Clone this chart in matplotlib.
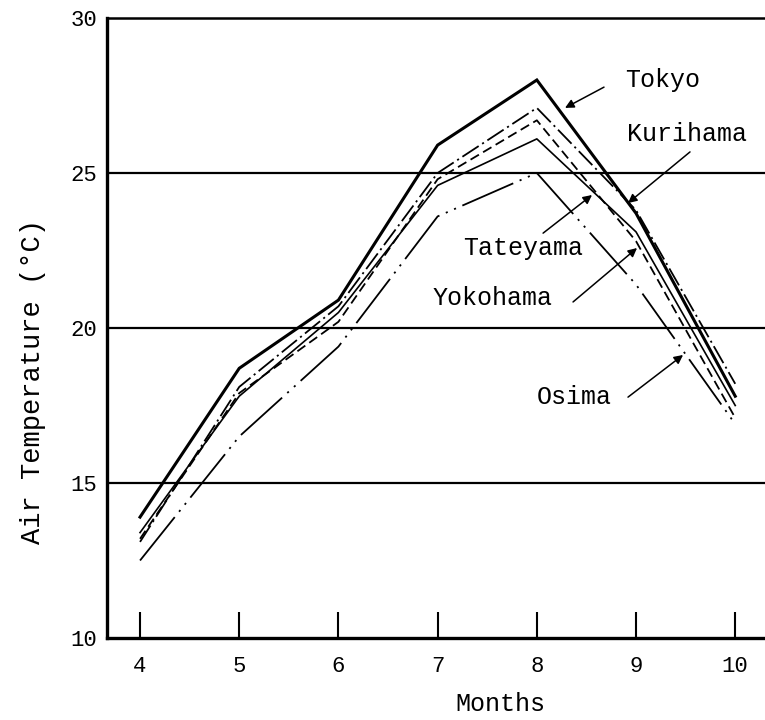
import matplotlib
matplotlib.use("Agg")
import matplotlib.pyplot as plt

plt.rcParams["font.family"] = ["Liberation Mono", "DejaVu Sans Mono"]
plt.rcParams["lines.scale_dashes"] = False

# Monthly mean air temperature (deg C), April to October
months = [4, 5, 6, 7, 8, 9, 10]
tokyo = [13.9, 18.7, 20.9, 25.9, 28.0, 23.7, 17.8]
kurihama = [13.1, 18.1, 20.7, 25.0, 27.1, 23.8, 18.2]
tateyama = [13.2, 17.9, 20.2, 24.8, 26.7, 22.8, 17.1]
yokohama = [13.4, 17.8, 20.5, 24.6, 26.1, 23.1, 17.5]
osima = [12.5, 16.5, 19.4, 23.6, 25.0, 21.4, 16.9]

y_ticks = [10, 15, 20, 25, 30]
x_ticks = months

fig = plt.figure(figsize=(7.65, 7.2), dpi=100)
ax = fig.add_axes([107 / 765, 1 - 638 / 720, 1 - 107 / 765, (638 - 18) / 720])

ax.set_xlim(3.667, 10.30)
ax.set_ylim(10, 30)

# station curves
ax.plot(months, tokyo, color="black", lw=2.2, ls="-", solid_joinstyle="miter")
ax.plot(months, kurihama, color="black", lw=1.3, ls=(0, (14, 3, 1.5, 3)))
ax.plot(months, tateyama, color="black", lw=1.3, ls=(0, (7, 3.5)))
ax.plot(months, yokohama, color="black", lw=1.2, ls="-")
ax.plot(months, osima, color="black", lw=1.3,
        ls=(0, (40, 5, 1.5, 5, 1.5, 5)))

# horizontal reference lines
for t in y_ticks[1:-1]:
    ax.axhline(t, color="black", lw=1.6, zorder=1)

# frame
ax.spines["right"].set_visible(False)
ax.spines["left"].set_linewidth(2.4)
ax.spines["bottom"].set_linewidth(2.4)
ax.spines["top"].set_linewidth(1.8)

ax.set_xticks(x_ticks)
ax.set_xticklabels([str(m) for m in x_ticks])
ax.set_yticks(y_ticks)
ax.set_yticklabels([str(t) for t in y_ticks])
ax.tick_params(axis="x", direction="in", length=19, width=1.5,
               labelsize=16, pad=13, top=False)
ax.tick_params(axis="y", length=0, labelsize=16, pad=7)

ax.set_xlabel("Months", fontsize=18)
ax.xaxis.set_label_coords((500 - 107) / 658, -0.087)
ax.set_ylabel("Air Temperature (°C)", fontsize=19.5)
ax.yaxis.set_label_coords(-0.092, (638 - 382) / 620)

# station labels with pointer arrows
labels = [
    ("Tokyo", (8.889, 28.0), (8.677, 27.77), (8.284, 27.10)),
    ("Kurihama", (8.909, 26.26), (9.544, 25.68), (8.919, 24.03)),
    ("Tateyama", (7.256, 22.58), (8.063, 23.06), (8.556, 24.29)),
    ("Yokohama", (6.944, 20.97), (8.365, 20.84), (9.01, 22.58)),
    ("Osima", (8.0, 17.77), (8.919, 17.77), (9.474, 19.13)),
]
for name, tpos, tail, tip in labels:
    ax.text(tpos[0], tpos[1], name, fontsize=18, ha="left", va="center")
    ax.annotate("", xy=tip, xytext=tail,
                arrowprops=dict(arrowstyle="-|>", color="black", lw=1.1,
                                mutation_scale=13, shrinkA=0, shrinkB=0))

fig.savefig("out.png", dpi=100)
